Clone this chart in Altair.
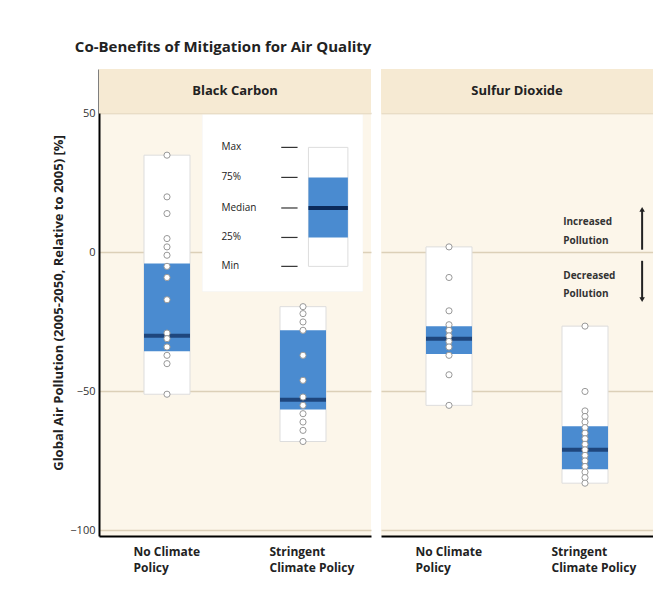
import altair as alt
import pandas as pd

scenarios = ["No Climate Policy", "Stringent Climate Policy"]
panels = ["Black Carbon", "Sulfur Dioxide"]

# box statistics: [min, q25, median, q75, max] per scenario
bc_stats = [[-51, -35.5, -30, -4, 35], [-68, -56.5, -53, -28, -19.5]]
so2_stats = [[-55, -36.5, -31, -26.5, 2], [-83, -78, -71, -62.5, -26.5]]

# individual model results
bc_none = [35, 20, 14, 5, 2, -1, -5, -9, -17, -29, -31, -34, -37, -40, -51]
bc_strict = [-19.5, -22, -25, -28, -37, -46, -52, -55, -58, -61, -64, -68]
so2_none = [2, -9, -21, -26, -28, -30, -32, -34, -37, -44, -55]
so2_strict = [-26.5, -50, -57, -59, -61, -63, -65, -67, -69, -71, -73, -75, -77, -79, -81, -83]

legend_labels = ["Max", "75%", "Median", "25%", "Min"]
legend_values = [37.8, 27, 16, 5.4, -5]

BLUE = "#4a8bd0"
NAVY = "#0b2a5a"
BEIGE = "#fcf6ea"
HEADER = "#f6ead3"
GRID = "#dcd0b8"
FONT = "Open Sans"
W, H = 272, 467
YDOM = [-102, 66]


def box_df(stats):
    return pd.DataFrame([
        {"x": i, "mn": s[0], "q1": s[1], "med": s[2], "q3": s[3], "mx": s[4]}
        for i, s in enumerate(stats)
    ])


def pts_df(a, b):
    return pd.DataFrame([{"x": 0, "v": v} for v in a] + [{"x": 1, "v": v} for v in b])


def panel(name, stats, pts, first):
    xs = alt.Scale(domain=[-0.5, 1.5], padding=0, nice=False, zero=False)
    ys = alt.Scale(domain=YDOM, nice=False, zero=False)
    xaxis = alt.Axis(values=[0, 1], title=None, grid=False, ticks=False, domain=True,
                     domainColor="black", domainWidth=2,
                     labelExpr="datum.value == 0 ? ['No Climate', 'Policy'] : ['Stringent', 'Climate Policy']",
                     labelAlign="left", labelOffset=-34, labelFont=FONT, labelFontWeight="bold",
                     labelFontSize=12, labelColor="#222", labelPadding=10, labelLineHeight=16)
    if first:
        yaxis = alt.Axis(values=[50, 0, -50, -100], title="Global Air Pollution (2005-2050, Relative to 2005) [%]",
                         titleFont=FONT, titleFontWeight="bold", titleFontSize=13, titleColor="#222",
                         labelFont=FONT, labelFontSize=11, labelColor="#333", gridColor=GRID, gridWidth=1.5,
                         domainColor="black", domainWidth=2, ticks=False, titlePadding=4, labelPadding=4)
    else:
        yaxis = alt.Axis(values=[50, 0, -50, -100], title=None, labels=False, ticks=False,
                         domain=False, gridColor=GRID, gridWidth=1.5)

    hdr = alt.Chart(pd.DataFrame({"a": [-0.5], "b": [1.5], "lo": [50], "hi": [66], "t": [name]}))
    header = hdr.mark_rect(color=HEADER).encode(
        x=alt.X("a:Q", scale=xs, axis=xaxis), x2="b", y=alt.Y("lo:Q", scale=ys, axis=yaxis), y2="hi")
    header_txt = hdr.mark_text(font=FONT, fontWeight="bold", fontSize=13, color="#222").encode(
        x=alt.datum(0.5), y=alt.datum(58), text="t:N")

    b = alt.Chart(box_df(stats))
    whole = b.mark_bar(color="white", stroke="#ddd", size=46).encode(x="x:Q", y="mn:Q", y2="mx")
    iqr = b.mark_bar(color=BLUE, size=46).encode(x="x:Q", y="q1:Q", y2="q3")
    med = b.mark_tick(color=NAVY, thickness=4, size=46, orient="horizontal").encode(x="x:Q", y="med:Q")
    dots = alt.Chart(pts).mark_point(shape="circle", filled=True, fill="white", stroke="#999",
                                    strokeWidth=1, size=38, opacity=1).encode(x="x:Q", y="v:Q")
    layers = [header, header_txt, whole, iqr, med, dots]

    if first:
        lg = pd.DataFrame({"lab": legend_labels, "v": legend_values})
        frame = alt.Chart(pd.DataFrame({"a": [0.26], "b": [1.44], "lo": [-14], "hi": [49.5]}))
        shadow = frame.mark_rect(color="#e6e6e6", dx=2, dy=2).encode(x="a:Q", x2="b", y="lo:Q", y2="hi")
        card = frame.mark_rect(color="white").encode(x="a:Q", x2="b", y="lo:Q", y2="hi")
        mini = alt.Chart(pd.DataFrame({"a": [1.04], "b": [1.33], "mn": [-5], "q1": [5.4], "med": [16],
                                       "q3": [27], "mx": [37.8]}))
        mini_w = mini.mark_rect(color="white", stroke="#ddd").encode(x="a:Q", x2="b", y="mn:Q", y2="mx")
        mini_b = mini.mark_rect(color=BLUE).encode(x="a:Q", x2="b", y="q1:Q", y2="q3")
        mini_m = mini.mark_rule(color=NAVY, strokeWidth=4).encode(x="a:Q", x2="b", y="med:Q")
        labs = alt.Chart(lg).mark_text(align="left", font=FONT, fontSize=10, color="#222").encode(
            x=alt.datum(0.4), y="v:Q", text="lab:N")
        dashes = alt.Chart(lg).mark_rule(color="#333", strokeWidth=1.2).encode(
            x=alt.datum(0.84), x2=alt.datum(0.96), y="v:Q")
        layers += [shadow, card, mini_w, mini_b, mini_m, labs, dashes]
    else:
        notes = pd.DataFrame({"t": ["Increased", "Pollution", "Decreased", "Pollution"],
                              "v": [11, 4.3, -8.3, -15]})
        txt = alt.Chart(notes).mark_text(align="left", font=FONT, fontWeight="bold", fontSize=10,
                                        color="#333").encode(x=alt.datum(0.84), y="v:Q", text="t:N")
        arr = pd.DataFrame({"y1": [1, -3], "y2": [15.5, -17]})
        shafts = alt.Chart(arr).mark_rule(color="#222", strokeWidth=2).encode(
            x=alt.datum(1.42), y="y1:Q", y2="y2")
        heads = alt.Chart(pd.DataFrame({"v": [15.5, -17], "s": ["triangle-up", "triangle-down"]})).mark_point(
            filled=True, color="#222", size=30, opacity=1).encode(
            x=alt.datum(1.42), y="v:Q", shape=alt.Shape("s:N", scale=None))
        layers += [txt, shafts, heads]

    return alt.layer(*layers).properties(width=W, height=H)


left = panel("Black Carbon", bc_stats, pts_df(bc_none, bc_strict), True)
right = panel("Sulfur Dioxide", so2_stats, pts_df(so2_none, so2_strict), False)

chart = alt.hconcat(left, right, spacing=10).properties(
    title=alt.TitleParams("Co-Benefits of Mitigation for Air Quality", anchor="start", font=FONT,
                          fontSize=15, fontWeight="bold", color="#222", offset=14, dx=22),
    padding={"left": 44, "top": 32, "right": 0, "bottom": 24},
    background="white",
).configure_view(fill=BEIGE, stroke=None)

chart.save("out.html", embed_options={"renderer": "svg", "actions": False})
